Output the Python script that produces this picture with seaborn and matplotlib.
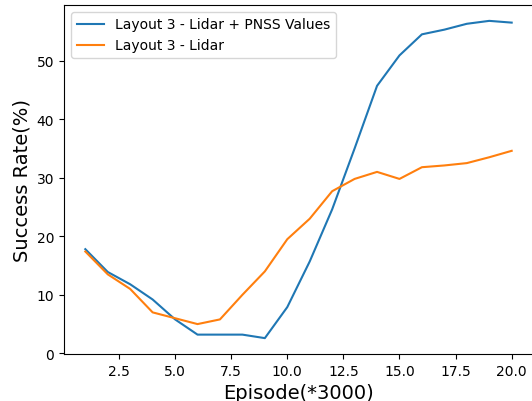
import matplotlib
matplotlib.use("Agg")
import matplotlib.pyplot as plt
import seaborn as sns
import pandas as pd

episodes = list(range(1, 21))
lidar_pnss = [17.8, 13.9, 11.8, 9.2, 5.8, 3.2, 3.2, 3.2, 2.6, 7.9,
              15.7, 24.6, 35.0, 45.7, 50.9, 54.5, 55.3, 56.3, 56.8, 56.5]
lidar = [17.4, 13.5, 11.0, 7.0, 6.0, 5.0, 5.8, 10.0, 14.0, 19.5,
         23.0, 27.7, 29.8, 31.0, 29.8, 31.8, 32.1, 32.5, 33.5, 34.6]
series_names = ["Layout 3 - Lidar + PNSS Values", "Layout 3 - Lidar"]

df = pd.DataFrame({
    "Episode": episodes * 2,
    "Success": lidar_pnss + lidar,
    "Series": [series_names[0]] * 20 + [series_names[1]] * 20,
})

fig = plt.figure(figsize=(5.32, 4.02), dpi=100)
ax = fig.add_axes([64 / 532, 1 - 355 / 402, (533 - 64) / 532, (355 - 6) / 402])
sns.lineplot(data=df, x="Episode", y="Success", hue="Series",
             palette=["#1f77b4", "#ff7f0e"], ax=ax, linewidth=1.5)
ax.set_xlabel("Episode(*3000)", fontsize=14)
ax.set_ylabel("Success Rate(%)", fontsize=14)
ax.tick_params(labelsize=10)
ax.legend(title=None, loc="upper left", fontsize=10)
fig.savefig("out.png", dpi=100)
